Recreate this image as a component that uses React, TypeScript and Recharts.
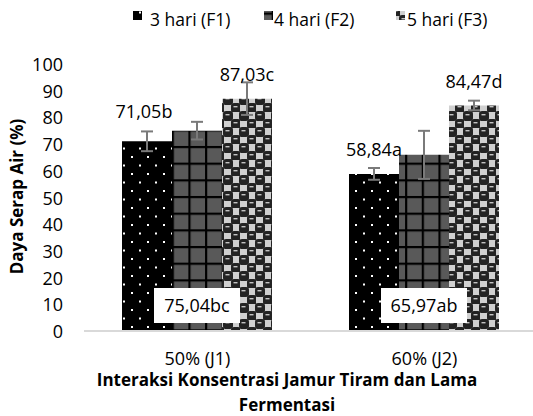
import React from 'react';
import { BarChart, Bar, XAxis, YAxis, ErrorBar, LabelList } from 'recharts';

const categories = ['50% (J1)', '60% (J2)'];
const seriesNames = ['3 hari (F1)', '4 hari (F2)', '5 hari (F3)'];
const f1Values = [71.05, 58.84];
const f2Values = [75.04, 65.97];
const f3Values = [87.03, 84.47];
const f1Errors = [3.7, 2.2];
const f2Errors = [3.3, 9.0];
const f3Errors = [6.1, 1.8];
const f1Notes = ['71,05b', '58,84a'];
const f2Notes = ['75,04bc', '65,97ab'];
const f3Notes = ['87,03c', '84,47d'];
const yTicks = [0, 10, 20, 30, 40, 50, 60, 70, 80, 90, 100];

const data = categories.map((name, i) => ({
  name,
  f1: f1Values[i],
  f2: f2Values[i],
  f3: f3Values[i],
  f1Err: f1Errors[i],
  f2Err: f2Errors[i],
  f3Err: f3Errors[i],
  f1Note: f1Notes[i],
  f2Note: f2Notes[i],
  f3Note: f3Notes[i],
}));

const FONT = '"Open Sans", sans-serif';
const fills = ['url(#patF1)', 'url(#patF2)', 'url(#patF3)'];

// how far above the bar top each note sits (the first one is lifted a bit more)
const f1Lift = [23, 18];
const f1Shift = [-3, 0];
const f3Lift = [18, 17];

const YTick = ({ x, y, payload }: any) => (
  <text x={x} y={y + 7} textAnchor="end" fontSize={18} fontFamily={FONT} fill="#000">
    {payload.value}
  </text>
);

const XTick = ({ x, y, payload }: any) => (
  <text x={x} y={y + 34} textAnchor="middle" fontSize={18} fontFamily={FONT} fill="#000">
    {payload.value}
  </text>
);

const YTitle = ({ viewBox }: any) => {
  const cx = viewBox.x + 16;
  const cy = viewBox.y + viewBox.height / 2 - 1;
  return (
    <text
      x={cx}
      y={cy}
      transform={`rotate(-90, ${cx}, ${cy})`}
      textAnchor="middle"
      dominantBaseline="central"
      fontSize={17}
      fontWeight="bold"
      fontFamily={FONT}
      fill="#000"
    >
      Daya Serap Air (%)
    </text>
  );
};

const XTitle = ({ viewBox }: any) => {
  const cx = viewBox.x + viewBox.width / 2 - 24;
  return (
    <text textAnchor="middle" fontSize={17} fontWeight="bold" fontFamily={FONT} fill="#000">
      <tspan x={cx} y={viewBox.y + 55}>Interaksi Konsentrasi Jamur Tiram dan Lama</tspan>
      <tspan x={cx} y={viewBox.y + 80}>Fermentasi</tspan>
    </text>
  );
};

const topLabel = (notes: string[], lift: number[], shift: number[] = []) => (props: any) => {
  const { x, y, width, value } = props;
  const i = notes.indexOf(value);
  return (
    <text
      x={x + width / 2 + (shift[i] ?? 0)}
      y={y - (lift[i] ?? 18)}
      textAnchor="middle"
      fontSize={18}
      fontFamily={FONT}
      fill="#000"
    >
      {value}
    </text>
  );
};

// F2 notes sit in a white box at the foot of the F2 bar; drawn from the F3 bar so they stay on top
const boxLabel = (props: any) => {
  const { x, y, width, height, value } = props;
  const cx = x - width / 2;
  const bottom = y + height;
  return (
    <g>
      <rect x={cx - 43} y={bottom - 43} width={86} height={35} fill="#fff" />
      <text x={cx} y={bottom - 19} textAnchor="middle" fontSize={18} fontFamily={FONT} fill="#000">
        {value}
      </text>
    </g>
  );
};

const Patterns = () => (
  <defs>
    <pattern id="patF1" patternUnits="userSpaceOnUse" width={16} height={17}>
      <rect width={16} height={17} fill="#000" />
      <rect x={3} y={3} width={2} height={2} fill="#fff" />
      <rect x={11} y={11.5} width={2} height={2} fill="#fff" />
    </pattern>
    <pattern id="patF2" patternUnits="userSpaceOnUse" x={5} y={12.6} width={16.67} height={16.67}>
      <rect width={16.67} height={16.67} fill="#595959" />
      <rect x={0} y={0} width={2.2} height={16.67} fill="#000" />
      <rect x={0} y={0} width={16.67} height={2.2} fill="#000" />
    </pattern>
    <pattern id="patF3" patternUnits="userSpaceOnUse" width={16} height={16}>
      <rect width={16} height={16} fill="#d0d0d0" />
      <rect x={-1} y={-1} width={10} height={10} rx={3} fill="#232323" />
      <rect x={15} y={-1} width={10} height={10} rx={3} fill="#232323" />
      <rect x={-1} y={15} width={10} height={10} rx={3} fill="#232323" />
      <rect x={7} y={7} width={10} height={10} rx={3} fill="#232323" />
      <rect x={1.5} y={2} width={4} height={1.4} fill="#c4c4c4" />
      <rect x={9.5} y={10} width={4} height={1.4} fill="#c4c4c4" />
    </pattern>
  </defs>
);

const legendIconX = [133, 264, 396];
const legendTextX = [150, 274, 407];

const App = () => {
  return (
    <div
      style={{
        position: 'absolute',
        left: 0,
        top: 0,
        width: 533,
        height: 416,
        overflow: 'hidden',
        background: '#fff',
      }}
    >
      <BarChart
        width={545}
        height={416}
        data={data}
        margin={{ top: 64, right: 7, bottom: 0, left: 0 }}
        barCategoryGap={38}
        barGap={0}
      >
        <Patterns />
        <XAxis
          dataKey="name"
          height={85}
          tickLine={false}
          tickSize={0}
          tickMargin={0}
          axisLine={{ stroke: '#d9d9d9', strokeWidth: 2 }}
          tick={<XTick />}
          label={{ content: XTitle }}
        />
        <YAxis
          width={84}
          domain={[0, 100]}
          ticks={yTicks}
          interval={0}
          axisLine={false}
          tickLine={false}
          tickSize={0}
          tickMargin={21}
          tick={<YTick />}
          label={{ content: YTitle }}
        />
        <Bar dataKey="f1" name={seriesNames[0]} fill={fills[0]} isAnimationActive={false}>
          <ErrorBar dataKey="f1Err" width={6} stroke="#7a7a7a" strokeWidth={2} />
          <LabelList dataKey="f1Note" content={topLabel(f1Notes, f1Lift, f1Shift)} />
        </Bar>
        <Bar dataKey="f2" name={seriesNames[1]} fill={fills[1]} isAnimationActive={false}>
          <ErrorBar dataKey="f2Err" width={6} stroke="#7a7a7a" strokeWidth={2} />
        </Bar>
        <Bar dataKey="f3" name={seriesNames[2]} fill={fills[2]} isAnimationActive={false}>
          <ErrorBar dataKey="f3Err" width={6} stroke="#7a7a7a" strokeWidth={2} />
          <LabelList dataKey="f3Note" content={topLabel(f3Notes, f3Lift)} />
          <LabelList dataKey="f2Note" content={boxLabel} />
        </Bar>
      </BarChart>
      <svg
        width={533}
        height={40}
        style={{ position: 'absolute', left: 0, top: 0 }}
      >
        {seriesNames.map((s, i) => (
          <g key={s}>
            <rect x={legendIconX[i]} y={11} width={9} height={9} fill={fills[i]} />
            <text x={legendTextX[i]} y={26} fontSize={17.5} fontFamily={FONT} fill="#000">
              {s}
            </text>
          </g>
        ))}
      </svg>
    </div>
  );
};

export default App;
